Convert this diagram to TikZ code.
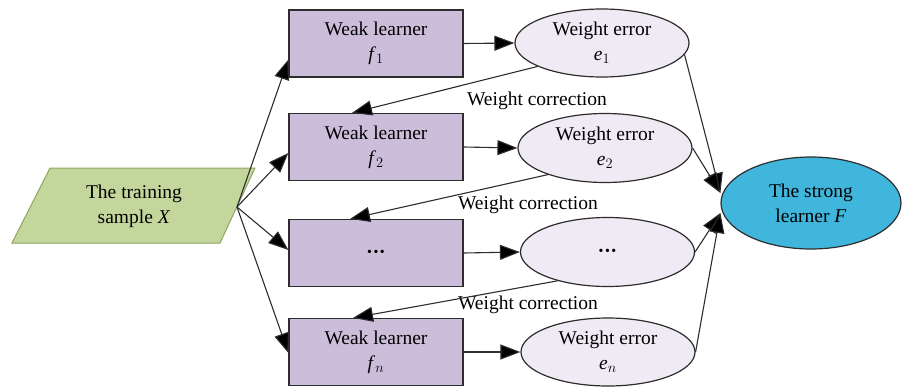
\documentclass[tikz,border=0pt]{standalone}
\usepackage{fontspec}
\setmainfont{Liberation Serif}
\usetikzlibrary{arrows.meta,shapes.geometric}
\definecolor{boxfill}{RGB}{204,190,218}
\definecolor{ellfill}{RGB}{240,234,244}
\definecolor{greenfill}{RGB}{195,214,155}
\definecolor{greenline}{RGB}{140,165,100}
\definecolor{bluefill}{RGB}{64,182,220}
\definecolor{lineclr}{RGB}{45,45,45}
\tikzset{
  learnerbox/.style={draw=lineclr,line width=1.2pt,fill=boxfill,minimum width=174pt,minimum height=67pt,inner sep=0pt,align=center},
  errell/.style={ellipse,draw=lineclr,line width=1.2pt,fill=ellfill,minimum width=174pt,minimum height=68pt,inner sep=0pt,align=center},
  strongell/.style={ellipse,draw=lineclr,line width=1.2pt,fill=bluefill,minimum width=180pt,minimum height=92pt,inner sep=0pt,align=center},
  conn/.style={draw=lineclr,line width=1.1pt,-{Triangle[length=20pt,width=15pt,fill=black]}},
  lbl/.style={inner sep=0pt},
}
\newcommand{\mydots}{{\fontsize{14}{14}\selectfont •\kern1.5pt•\kern1.5pt•}}
\begin{document}
\begin{tikzpicture}[x=1pt,y=-1pt,font=\fontsize{19.5}{25}\selectfont]
\useasboundingbox (0,0) rectangle (906,386);
% source parallelogram
\draw[draw=greenline,line width=1pt,fill=greenfill] (50,168) -- (255,168) -- (220,243) -- (12,243) -- cycle;
\node[lbl,align=center] (src) at (134,206) {The training\\sample \textit{X}};
\coordinate (apex) at (237,207);
% learners
\node[learnerbox] (b1) at (376,43.5) {Weak learner\\\textit{f}$_{1}$};
\node[learnerbox] (b2) at (376,147) {Weak learner\\\textit{f}$_{2}$};
\node[learnerbox] (b3) at (376,253) {\mydots};
\node[learnerbox] (b4) at (376,352) {Weak learner\\\textit{f}$_{n}$};
% errors
\node[errell] (e1) at (602,43) {Weight error\\\textit{e}$_{1}$};
\node[errell,minimum height=69pt] (e2) at (605,148) {Weight error\\\textit{e}$_{2}$};
\node[errell,minimum height=69pt] (e3) at (607.5,252) {\mydots};
\node[errell] (e4) at (608,352) {Weight error\\\textit{e}$_{n}$};
% strong learner
\node[strongell] (F) at (811,203) {The strong\\learner \textit{F}};
% labels
\node[lbl] (w1) at (537,101) {Weight correction};
\node[lbl] (w2) at (528,205) {Weight correction};
\node[lbl] (w3) at (528,305) {Weight correction};
% input arrows
\draw[conn] (apex) -- ([yshift=-16pt]b1.west);
\draw[conn] (apex) -- ([yshift=-6pt]b2.west);
\draw[conn] (apex) -- ([yshift=3pt]b3.west);
\draw[conn] (apex) -- ([yshift=-1pt]b4.west);
% learner to error
\draw[conn] (b1.east) -- (e1.west);
\draw[conn] (b2.east) -- (e2.west);
\draw[conn] (b3.east) -- (e3.west);
\draw[conn] (b4.east) -- (e4.west);
% corrections
\draw[conn] (e1.200) -- ([xshift=-24pt]b2.north);
\draw[conn] (e2.205) -- ([xshift=-26pt]b3.north);
\draw[conn] (e3.210) -- ([xshift=-23pt]b4.north);
% to strong learner
\draw[conn] (e1.-8) -- ([yshift=10pt]F.west);
\draw[conn] (e2.east) -- ([yshift=10pt]F.west);
\draw[conn] (e3.east) -- ([yshift=-10pt]F.west);
\draw[conn] (e4.east) -- ([yshift=-10pt]F.west);
\end{tikzpicture}
\end{document}
